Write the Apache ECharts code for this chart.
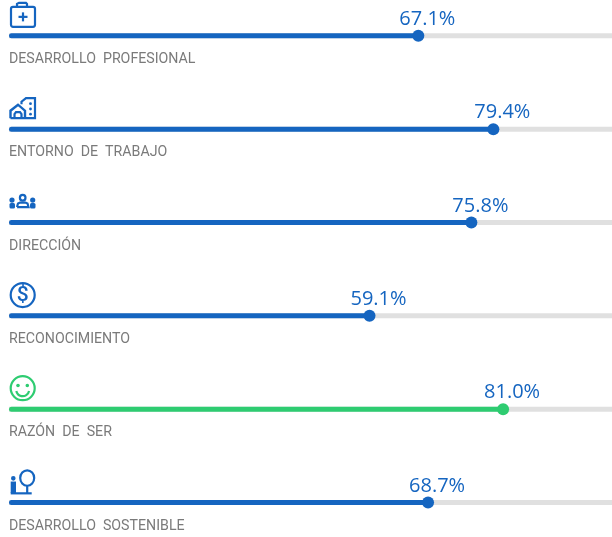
<!DOCTYPE html>
<html>
<head>
<meta charset="utf-8">
<style>
  html, body { margin: 0; padding: 0; background: #fff; overflow: hidden; }
  #main { width: 612px; height: 537px; }
</style>
<script src="https://cdn.jsdelivr.net/npm/echarts@6/dist/echarts.min.js"></script>
</head>
<body>
<div id="main"></div>
<script>
var categories = ["DESARROLLO PROFESIONAL", "ENTORNO DE TRABAJO", "DIRECCIÓN", "RECONOCIMIENTO", "RAZÓN DE SER", "DESARROLLO SOSTENIBLE"];
var scores = [67.1, 79.4, 75.8, 59.1, 81.0, 68.7];
var fullScale = [100, 100, 100, 100, 100, 100];
var iconAnchor = [0, 0, 0, 0, 0, 0];

var BLUE = "#1565c0", GREEN = "#2ecc71", TRACK = "#e0e0e0", GREY = "#7a7a7a";

function colorOf(i) {
  return categories[i] === "RAZÓN DE SER" ? GREEN : BLUE;
}

// los iconos se dibujan relativos al inicio de cada barra
function stroke(c) { return { fill: "none", stroke: c, lineWidth: 2.2 }; }
function iconParts(i, c) {
  var s = stroke(c), f = { fill: c };
  switch (i) {
    case 0: return [
      { type: "rect", shape: { x: 2, y: -29, width: 24, height: 20, r: 2 }, style: s },
      { type: "polyline", shape: { points: [[8, -29], [8, -32], [10, -33], [17, -33], [18, -32], [18, -29]] }, style: s },
      { type: "line", shape: { x1: 14, y1: -23.5, x2: 14, y2: -14.5 }, style: s },
      { type: "line", shape: { x1: 9.5, y1: -19, x2: 18.5, y2: -19 }, style: s }
    ];
    case 1: return [
      { type: "polyline", shape: { points: [[1.5, -11], [1.5, -18.5], [9, -24.5], [16, -18.5], [16, -11]] }, style: { fill: "none", stroke: c, lineWidth: 2.4 } },
      { type: "polyline", shape: { points: [[5.5, -11], [5.5, -15], [7, -17], [11, -17], [12.5, -15], [12.5, -11]] }, style: s },
      { type: "polyline", shape: { points: [[1.5, -11], [26, -11], [26, -31], [17, -31], [12.5, -27.5], [12.5, -25]] }, style: s },
      { type: "circle", shape: { cx: 21.5, cy: -25.5, r: 1.4 }, style: f },
      { type: "circle", shape: { cx: 21.5, cy: -20.2, r: 1.4 }, style: f },
      { type: "circle", shape: { cx: 21.5, cy: -15, r: 1.4 }, style: f }
    ];
    case 2: return [
      { type: "circle", shape: { cx: 13.7, cy: -24.8, r: 2.8 }, style: s },
      { type: "polyline", shape: { points: [[8, -15.5], [9, -19], [11, -20], [16.5, -20], [18.5, -19], [19.5, -15.5], [8, -15.5]] }, style: s },
      { type: "circle", shape: { cx: 3, cy: -22.5, r: 2.6 }, style: f },
      { type: "circle", shape: { cx: 23.7, cy: -22.5, r: 2.6 }, style: f },
      { type: "rect", shape: { x: 0.5, y: -19.5, width: 5.5, height: 5.5, r: 1.5 }, style: f },
      { type: "rect", shape: { x: 21, y: -19.5, width: 5.5, height: 5.5, r: 1.5 }, style: f }
    ];
    case 3: return [
      { type: "circle", shape: { cx: 13.7, cy: -20.8, r: 12 }, style: s },
      { type: "text", style: { text: "$", x: 13.7, y: -20.5, align: "center", verticalAlign: "middle", fill: c, font: "500 21px Roboto" } }
    ];
    case 4: return [
      { type: "circle", shape: { cx: 13.7, cy: -21, r: 12 }, style: s },
      { type: "circle", shape: { cx: 9, cy: -23.7, r: 1.8 }, style: f },
      { type: "circle", shape: { cx: 18.3, cy: -23.7, r: 1.8 }, style: f },
      { type: "arc", shape: { cx: 13.7, cy: -19.5, r: 6.5, startAngle: 0.2, endAngle: Math.PI - 0.2 }, style: s }
    ];
    default: return [
      { type: "ellipse", shape: { cx: 18.2, cy: -24.5, rx: 7, ry: 7.7 }, style: s },
      { type: "line", shape: { x1: 18.2, y1: -16.5, x2: 18.2, y2: -9.2 }, style: s },
      { type: "line", shape: { x1: 1.7, y1: -9.2, x2: 22.7, y2: -9.2 }, style: s },
      { type: "circle", shape: { cx: 4.3, cy: -24.2, r: 2.3 }, style: f },
      { type: "rect", shape: { x: 1.7, y: -21, width: 5.3, height: 11.5 }, style: f }
    ];
  }
}

var myChart = echarts.init(document.getElementById("main"), null, { renderer: "canvas" });

var option = {
  animation: false,
  textStyle: { fontFamily: "'Open Sans', sans-serif" },
  grid: { left: 9, width: 610, top: -10.8, height: 560, containLabel: false, outerBoundsMode: "none" },
  xAxis: { type: "value", min: 0, max: 100, show: false },
  yAxis: {
    type: "category",
    inverse: true,
    data: categories,
    axisLine: { show: false },
    axisTick: { show: false },
    splitLine: { show: false },
    axisLabel: { show: false }
  },
  series: [
    {
      type: "bar",
      data: fullScale,
      barWidth: 5,
      barGap: "-100%",
      silent: true,
      itemStyle: { color: TRACK },
      label: {
        show: true,
        position: "insideLeft",
        distance: 0,
        offset: [0, 23.5],
        color: GREY,
        fontSize: 14.2,
        fontFamily: "Roboto, sans-serif",
        // el original deja mas aire entre palabras
        formatter: function (p) { return p.name.replace(/ /g, "  "); }
      },
      z: 1
    },
    {
      type: "bar",
      data: scores,
      barWidth: 5,
      itemStyle: {
        borderRadius: 2.5,
        color: function (p) { return colorOf(p.dataIndex); }
      },
      z: 2
    },
    {
      type: "scatter",
      data: scores.map(function (v, i) { return [v, i]; }),
      symbolSize: 12,
      itemStyle: {
        opacity: 1,
        color: function (p) { return colorOf(p.dataIndex); }
      },
      label: {
        show: true,
        position: "top",
        offset: [9, 4.5],
        fontSize: 20,
        fontFamily: "'Open Sans', sans-serif",
        color: function (p) { return colorOf(p.dataIndex); },
        formatter: function (p) { return p.value[0].toFixed(1) + "%"; }
      },
      z: 3
    },
    {
      type: "custom",
      data: iconAnchor.map(function (v, i) { return [v, i]; }),
      clip: false,
      silent: true,
      renderItem: function (params, api) {
        var pt = api.coord([api.value(0), api.value(1)]);
        return {
          type: "group",
          x: pt[0],
          y: pt[1],
          children: iconParts(params.dataIndex, colorOf(params.dataIndex))
        };
      },
      z: 4
    }
  ]
};

myChart.setOption(option);
</script>
</body>
</html>
